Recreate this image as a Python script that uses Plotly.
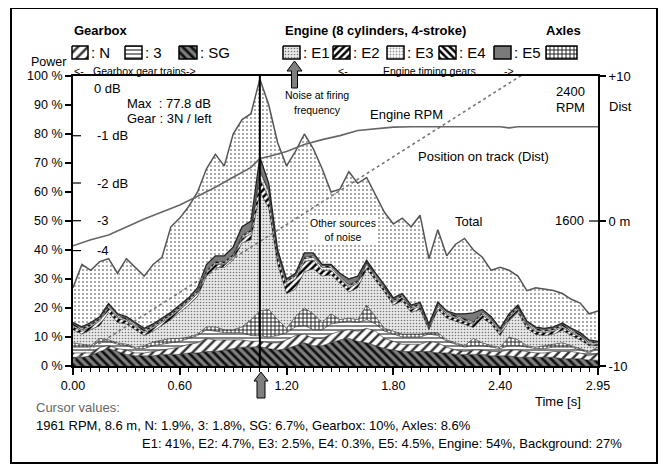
import plotly.graph_objects as go

W, H = 668, 472
OFF = 8  # the page body adds 8 px before the figure
PLOT_L, PLOT_R, PLOT_T, PLOT_B = 73, 598, 76, 366

# ---- data (power share in %, time in s) ----
time_s = [0.00, 0.05, 0.10, 0.15, 0.20, 0.25, 0.30, 0.35, 0.40, 0.45,
          0.50, 0.55, 0.60, 0.65, 0.70, 0.75, 0.80, 0.85, 0.90, 0.95,
          1.00, 1.05, 1.10, 1.15, 1.20, 1.25, 1.30, 1.35, 1.40, 1.45,
          1.50, 1.55, 1.60, 1.65, 1.70, 1.75, 1.80, 1.85, 1.90, 1.95,
          2.00, 2.05, 2.10, 2.15, 2.20, 2.25, 2.30, 2.35, 2.40, 2.45,
          2.50, 2.55, 2.60, 2.65, 2.70, 2.75, 2.80, 2.85, 2.90, 2.95]

gear_sg = [3, 3, 3.5, 5, 6, 5, 4, 3.5, 3.5, 3.5,
           4, 4, 4, 4.5, 4.5, 5, 5, 5.5, 6, 6.5,
           6.5, 6.7, 6, 5.5, 6, 7, 8, 7, 7, 8,
           9, 9.5, 8.5, 8, 7, 6, 5.5, 5, 5, 5,
           5, 4.5, 4.5, 4, 4, 4, 4, 3.5, 3.5, 3.5,
           3, 3, 3, 3, 3, 2.5, 2.5, 2.5, 2, 2]
gear_n = [1.5, 1.5, 1, 1.5, 1, 1, 1.5, 1, 1, 1.5,
          1.5, 2, 2.5, 3, 3.5, 4.5, 4, 3.5, 3, 2.5,
          2, 1.9, 2, 2.5, 3, 3.5, 3, 2.5, 2.5, 3,
          3, 3, 3.5, 5, 5, 3.5, 3, 2.5, 2.5, 2.5,
          3.5, 3.5, 2, 1.5, 1, 1.5, 1.5, 1.5, 1.5, 2,
          2.5, 2, 1.5, 1.5, 2, 2.5, 2.5, 2, 1.5, 2.5]
gear_3 = [2, 2, 2, 2, 1.5, 1.5, 1.5, 1.5, 1.5, 2,
          2, 2, 2, 2, 2.5, 3, 3, 2.5, 2.5, 2.5,
          2, 1.8, 2, 2.5, 2.5, 3, 3, 3, 3, 3.5,
          3, 3, 3, 3, 2.5, 2.5, 2.5, 2.5, 2.5, 2.5,
          2.5, 2.5, 2, 2, 1.5, 1.5, 1.5, 1.5, 1, 1.5,
          1.5, 1.5, 1.5, 1.5, 1.5, 1.5, 1.5, 1, 1, 1.5]
axles = [1.5, 1, 0.5, 1, 0.5, 0.5, 0.5, 0.5, 1, 1.3,
         1.5, 1.5, 1, 0.5, 0.5, 1, 1.5, 1, 1, 2,
         5.5, 8.6, 9.5, 5.5, 1.5, 3.5, 6, 5.5, 2.5, 3.5,
         1, 1, 1, 5, 2.5, 1, 1, 1, 1, 1,
         0.5, 1, 0.5, 0.5, 0.5, 2.5, 1, 0.5, 0.5, 3,
         2, 0.5, 0.5, 1, 1, 1.5, 0.5, 0.5, 0.5, 0.5]
eng_e1 = [4.5, 3.5, 5.5, 4.5, 9.5, 7, 7, 6, 3.5, 3.7,
          5, 6.5, 9, 11, 13, 17.5, 20.5, 21.5, 24, 29,
          27.5, 41, 35, 19, 12, 9.5, 12.5, 15.5, 16, 13.5,
          12.5, 9, 11, 12.5, 12.5, 12.5, 9, 11.5, 7.5, 8.5,
          1, 8, 7.5, 7.5, 7.5, 3.8, 8.5, 7.5, 4, 5.5,
          9.5, 6, 4.4, 3.5, 3.5, 4.3, 3.5, 3, 2, 0.5]
eng_e2 = [1, 1, 1, 1.5, 1.5, 1.5, 1, 1, 1, 1,
          1, 1, 1, 1, 1, 1, 1, 1, 1, 1.5,
          2, 4.7, 3.5, 2.5, 3, 3.5, 3.5, 3, 2, 1.5,
          1.5, 1.5, 1.5, 1.5, 1, 1, 1, 1, 1, 1,
          0.5, 1, 1, 1, 1, 1, 1, 1, 1, 1,
          1, 1, 1, 1, 1, 1, 1, 1, 0.5, 0.5]
eng_e3 = [0.5, 0.5, 0.5, 0.5, 0.5, 0.5, 0.5, 0.5, 0.5, 0.5,
          0.5, 0.5, 0.5, 0.5, 0.5, 0.5, 0.5, 0.5, 0.5, 0.5,
          1, 2.5, 2, 1, 1, 1, 1, 1, 1, 1,
          0.5, 0.5, 0.5, 0.5, 0.5, 0.5, 0.5, 0.5, 0.5, 0.5,
          0.5, 0.5, 0.5, 0.5, 0.5, 0.5, 0.5, 0.5, 0.5, 0.5,
          0.5, 0.5, 0.5, 0.5, 0.5, 0.5, 0.5, 0.5, 0.5, 0.5]
eng_e4 = [0.5, 0.5, 0.5, 0.5, 0.5, 0.5, 0.5, 0.5, 0.5, 0.5,
          0.5, 0.5, 0.5, 0.5, 0.5, 0.5, 0.5, 0.5, 0.5, 0.5,
          0.5, 0.3, 0.5, 0.5, 0.5, 0.5, 0.5, 0.5, 0.5, 0.5,
          0.5, 0.5, 0.5, 0.5, 0.5, 0.5, 0.5, 0.5, 0.5, 0.5,
          0.5, 0.5, 0.5, 0.5, 0.5, 0.5, 0.5, 0.5, 0.5, 0.5,
          0.5, 0.5, 0.5, 0.5, 0.5, 0.5, 0.5, 0.5, 0.5, 0.25]
eng_e5 = [0.5, 0.5, 0.5, 0.5, 0.5, 0.5, 0.5, 0.5, 0.5, 0.5,
          0.5, 0.5, 0.5, 0.5, 1, 2, 2, 2, 2.5, 3,
          3, 4.5, 2.5, 1, 0.5, 0.5, 1.5, 1, 0.5, 0.5,
          1, 2, 1.5, 0.5, 0.5, 0.5, 0.5, 0.5, 0.5, 0.5,
          0.5, 0.5, 0.5, 0.5, 1.5, 3, 1, 0.5, 0.5, 0.5,
          0.5, 0.5, 0.5, 0.5, 0.5, 0.5, 0.5, 0.5, 0.5, 0.25]
background = [12, 21.5, 18, 19, 15.5, 14, 20, 19, 18, 20.5,
              21, 29.5, 30, 31.5, 33, 33, 35, 31, 39, 37,
              37, 27, 27, 37, 39, 42, 41, 36, 33, 25,
              29, 37, 32, 28.5, 27, 25, 25.5, 26, 27, 30,
              22.5, 25, 19, 24, 26, 21.7, 18, 16, 21, 15,
              10, 10.5, 13.6, 13.5, 12.5, 10.2, 10, 10.2, 9, 10.5]

rpm_t = [0, 0.1, 0.2, 0.3, 0.4, 0.5, 0.6, 0.7, 0.8, 0.9, 1.0, 1.05, 1.1, 1.2,
         1.3, 1.4, 1.5, 1.6, 1.7, 1.8, 1.9, 2.0, 2.2, 2.4, 2.45, 2.5, 2.7, 2.95]
rpm = [1463, 1496, 1523, 1567, 1611, 1649, 1688, 1737, 1786, 1841, 1896, 1945, 1956, 1984,
       2022, 2049, 2071, 2099, 2110, 2118, 2120, 2120, 2120, 2120, 2114, 2120, 2120, 2120]

dist_t = [0, 0.5, 1.0, 1.5, 2.0, 2.5, 2.95]
dist_m = [-9.6, -5.7, -1.8, 2.1, 6.0, 9.9, 13.4]

cursor_t = 1.05
db_levels = [79.4, 63.1, 50.1, 39.8]
db_labels = ["-1 dB", "-2 dB", "-3", "-4"]
x_ticks = [0, 0.6, 1.2, 1.8, 2.4, 2.95]
y_ticks = [0, 10, 20, 30, 40, 50, 60, 70, 80, 90, 100]

# ---- styles ----
STYLE = {
    "SG": dict(fill="#7e7e7e", pat=dict(shape="\\", fgcolor="#111", size=6, solidity=0.45)),
    "N": dict(fill="white", pat=dict(shape="/", fgcolor="#333", size=7, solidity=0.35)),
    "3": dict(fill="white", pat=dict(shape="-", fgcolor="#333", size=4, solidity=0.3)),
    "Axles": dict(fill="white", pat=dict(shape="+", fgcolor="#111", size=4, solidity=0.4)),
    "E1": dict(fill="#e8e8e8", pat=dict(shape=".", fgcolor="#777", size=3, solidity=0.22)),
    "E2": dict(fill="white", pat=dict(shape="/", fgcolor="black", size=5, solidity=0.5)),
    "E3": dict(fill="white", pat=dict(shape=".", fgcolor="#999", size=3, solidity=0.3)),
    "E4": dict(fill="white", pat=dict(shape="\\", fgcolor="black", size=5, solidity=0.5)),
    "E5": dict(fill="#7a7a7a", pat=None),
    "BG": dict(fill="white", pat=dict(shape=".", fgcolor="#888", size=4, solidity=0.18)),
}

def px(x):
    return (x - OFF) / W

def py(y):
    return 1 - (y - OFF) / H

def pattern(name):
    st = STYLE[name]
    if st["pat"] is None:
        return None
    return dict(bgcolor=st["fill"], fillmode="replace", **st["pat"])

fig = go.Figure()

# stacked noise contributions
layers = [("SG", gear_sg), ("N", gear_n), ("3", gear_3), ("Axles", axles),
          ("E1", eng_e1), ("E2", eng_e2), ("E3", eng_e3), ("E4", eng_e4),
          ("E5", eng_e5), ("BG", background)]
for name, vals in layers:
    lw, lc = 0.6, "#222"
    if name == "E5":
        lw = 1.3
    if name == "BG":
        lw, lc = 1.5, "#555"
    fig.add_trace(go.Scatter(
        x=time_s, y=vals, name=name, mode="lines", stackgroup="noise",
        line=dict(color=lc, width=lw), fillcolor=STYLE[name]["fill"],
        fillpattern=pattern(name), hoverinfo="skip", showlegend=False))

# engine RPM and position on track
fig.add_trace(go.Scatter(x=rpm_t, y=rpm, yaxis="y3", mode="lines",
                         line=dict(color="#666", width=1.6), showlegend=False, hoverinfo="skip"))
fig.add_trace(go.Scatter(x=dist_t, y=dist_m, yaxis="y2", mode="lines",
                         line=dict(color="#777", width=1.6, dash="dot"), showlegend=False, hoverinfo="skip"))

# legend swatches (pixel overlay)
swatches = [("N", 72, 88), ("3", 125, 142), ("SG", 179, 197), ("E1", 283, 300),
            ("E2", 333, 350), ("E3", 387, 404), ("E4", 439, 456), ("E5", 494, 511),
            ("Axles", 546, 577)]
for name, x0, x1 in swatches:
    fig.add_trace(go.Scatter(
        x=[x0, x1, x1, x0, x0], y=[46, 46, 59, 59, 46], xaxis="x2", yaxis="y4",
        mode="lines", fill="toself", fillcolor=STYLE[name]["fill"], fillpattern=pattern(name),
        line=dict(color="black", width=1.5), hoverinfo="skip", showlegend=False))

def arrow(cx, tip, base, bottom, hw, sw):
    xs = [cx, cx + hw, cx + sw, cx + sw, cx - sw, cx - sw, cx - hw, cx]
    ys = [tip, base, base, bottom, bottom, base, base, tip]
    fig.add_trace(go.Scatter(x=xs, y=ys, xaxis="x2", yaxis="y4", mode="lines", fill="toself",
                             fillcolor="#7f7f7f", line=dict(color="black", width=1),
                             hoverinfo="skip", showlegend=False))

arrow(294.5, 61, 71, 88, 7.5, 3)
arrow(261, 372, 381, 398, 7, 4)

# cursor and small ticks
fig.add_shape(type="line", xref="x", yref="y", x0=cursor_t, x1=cursor_t, y0=0, y1=100,
              line=dict(color="black", width=2))
for lv, lab in zip(db_levels, db_labels):
    fig.add_shape(type="line", xref="paper", yref="y", x0=px(PLOT_L), x1=px(PLOT_L + 8),
                  y0=lv, y1=lv, line=dict(color="black", width=1.2))
    fig.add_annotation(x=px(95), y=lv, xref="paper", yref="y", text=lab, showarrow=False,
                       xanchor="left", yanchor="middle", font=dict(size=13))
fig.add_shape(type="line", xref="paper", yref="y2", x0=px(PLOT_R - 9), x1=px(PLOT_R),
              y0=0, y1=0, line=dict(color="black", width=1.2))

# frame
fig.add_shape(type="rect", xref="paper", yref="paper", x0=px(11), x1=px(657), y0=py(463), y1=py(8),
              line=dict(color="black", width=2), layer="below")

def note(x, y, text, size=13, anchor="left", color="black", **kw):
    fig.add_annotation(x=px(x), y=py(y), xref="paper", yref="paper", text=text, showarrow=False,
                       xanchor=anchor, yanchor="middle", font=dict(size=size, color=color), **kw)

note(72, 31, "<b>Gearbox</b>")
note(283, 31, "<b>Engine (8 cylinders, 4-stroke)</b>")
note(544, 31, "<b>Axles</b>")
for lab, x in [(": N", 89), (": 3", 143), (": SG", 198), (": E1", 301),
               (": E2", 351), (": E3", 405), (": E4", 457), (": E5", 512)]:
    note(x, 53, lab, size=15)
note(72, 71, "&lt;-", size=10.5)
note(139, 71, "Gearbox gear trains", size=10.5, anchor="center")
note(198, 71, "-&gt;", size=10.5, anchor="right")
note(336, 71, "&lt;-", size=10.5)
note(429, 71, "Engine timing gears", size=10.5, anchor="center")
note(516, 71, "-&gt;", size=10.5, anchor="right")
note(29, 62, "Power", size=12.5)

note(92, 88, "0 dB")
note(125, 103, "Max  : 77.8 dB")
note(125, 118, "Gear : 3N / left")
note(317, 95, "Noise at firing", size=10.5, anchor="center")
note(317, 110, "frequency", size=10.5, anchor="center")
note(406, 115, "Engine RPM", anchor="center")
note(416, 157, "Position on track (Dist)")
note(343, 230, "Other sources<br>of noise", size=10.5, anchor="center", bgcolor="white")
note(453, 221, "Total")
note(587, 92, "2400", anchor="right")
note(587, 107, "RPM", anchor="right")
note(586, 220, "1600", anchor="right")
note(607, 106, "Dist")
note(583, 401, "Time [s]", anchor="right")
note(34, 407, "Cursor values:", size=13, color="#666")
note(34, 425, "1961 RPM, 8.6 m, N: 1.9%, 3: 1.8%, SG: 6.7%, Gearbox: 10%, Axles: 8.6%", size=13)
note(140, 443, "E1: 41%, E2: 4.7%, E3: 2.5%, E4: 0.3%, E5: 4.5%, Engine: 54%, Background: 27%", size=13)

axis_common = dict(showgrid=False, zeroline=False, fixedrange=True, automargin=False)
fig.update_layout(
    template="none",
    width=W, height=H, margin=dict(l=0, r=0, t=0, b=0, pad=0, autoexpand=False),
    paper_bgcolor="white", plot_bgcolor="rgba(0,0,0,0)",
    font=dict(family="Arial, Liberation Sans, sans-serif", size=13, color="black"),
    xaxis=dict(domain=[px(PLOT_L), px(PLOT_R)], range=[0, 2.95], tickmode="array",
               tickvals=x_ticks, ticktext=["%.2f" % v for v in x_ticks],
               ticks="outside", ticklen=7, tickwidth=1.5, tickcolor="black",
               showline=True, linewidth=2, linecolor="black", mirror=True,
               minor=dict(tickmode="linear", tick0=0, dtick=0.05, ticks="outside",
                          ticklen=4, tickwidth=1, tickcolor="black"),
               tickfont=dict(size=12.5), **axis_common),
    yaxis=dict(domain=[py(PLOT_B), py(PLOT_T)], range=[0, 100], tickmode="array",
               tickvals=y_ticks, ticktext=["%d %%" % v for v in y_ticks],
               ticks="outside", ticklen=6, tickwidth=1.5, tickcolor="black",
               showline=True, linewidth=2, linecolor="black", mirror=True,
               tickfont=dict(size=12.5), **axis_common),
    yaxis2=dict(overlaying="y", anchor="x", side="right", range=[-10, 10], tickmode="array",
                tickvals=[-10, 0, 10], ticktext=["-10", "0 m", "+10"], ticks="outside",
                ticklen=7, tickwidth=1.5, tickcolor="black", showline=False,
                tickfont=dict(size=13), **axis_common),
    yaxis3=dict(overlaying="y", anchor="x", range=[800, 2400], visible=False, **axis_common),
    xaxis2=dict(domain=[0, 1], range=[OFF, W + OFF], anchor="y4", visible=False, **axis_common),
    yaxis4=dict(domain=[0, 1], range=[H + OFF, OFF], anchor="x2", visible=False, **axis_common),
)

fig.write_html("out.html")
